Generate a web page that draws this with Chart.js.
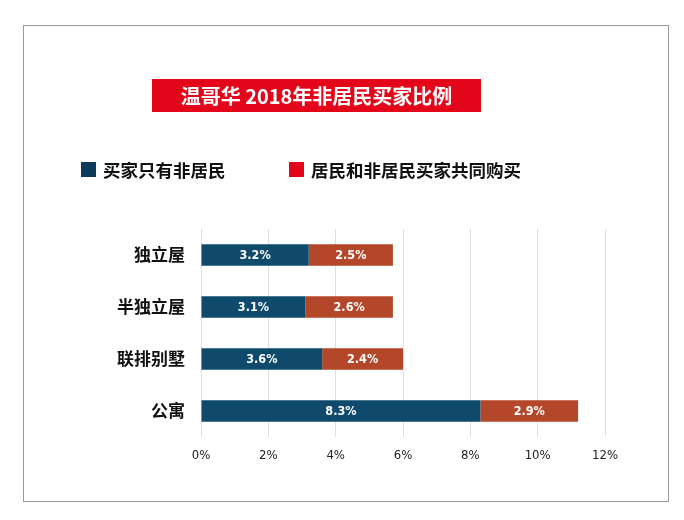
<!DOCTYPE html>
<html>
<head>
<meta charset="utf-8">
<script src="https://cdn.jsdelivr.net/npm/chart.js@4/dist/chart.umd.min.js"></script>
<style>
  html, body { margin: 0; padding: 0; background: #fff; }
  #wrap { width: 684px; height: 520px; position: relative; }
</style>
</head>
<body>
<div id="wrap"><canvas id="chart"></canvas></div>
<script>
// values (percent of sales)
const categories = ['独立屋', '半独立屋', '联排别墅', '公寓'];
const onlyNonResident = [3.2, 3.1, 3.6, 8.3];
const jointPurchase = [2.5, 2.6, 2.4, 2.9];
const seriesNames = ['买家只有非居民', '居民和非居民买家共同购买'];
const titleText = '温哥华 2018年非居民买家比例';
const xMax = 12;
const xStep = 2;

const BLUE = '#0f4a6d';
const ORANGE = '#b4462a';
const RED = '#e3061a';
const CJK = '"Noto Sans CJK SC", "Noto Sans", sans-serif';
const NARROW = '"Liberation Sans Narrow", "DejaVu Sans Condensed", "Liberation Sans", sans-serif';

// frame, title box and legend
const decorPlugin = {
  id: 'decor',
  beforeDraw(chart) {
    const ctx = chart.ctx;
    ctx.save();
    ctx.fillStyle = '#fff';
    ctx.fillRect(0, 0, chart.width, chart.height);
    ctx.strokeStyle = '#9a9a9a';
    ctx.lineWidth = 1;
    ctx.strokeRect(23.5, 25.5, 645, 476);
    ctx.restore();
  },
  afterDraw(chart) {
    const ctx = chart.ctx;
    ctx.save();
    ctx.fillStyle = RED;
    ctx.fillRect(152, 79, 329, 33);
    ctx.fillStyle = '#fff';
    ctx.font = 'bold 20px ' + CJK;
    ctx.textAlign = 'center';
    ctx.textBaseline = 'middle';
    ctx.fillText(titleText, 316.5, 96);

    // legend
    ctx.textAlign = 'left';
    ctx.font = 'bold 17.5px ' + CJK;
    ctx.fillStyle = '#0d3a5a';
    ctx.fillRect(81, 162, 15, 15);
    ctx.fillStyle = '#111';
    ctx.fillText(seriesNames[0], 103, 170);
    ctx.fillStyle = RED;
    ctx.fillRect(289, 162, 15, 15);
    ctx.fillStyle = '#111';
    ctx.fillText(seriesNames[1], 311, 170);
    ctx.restore();
  }
};

// value labels inside the bar segments
const valueLabels = {
  id: 'valueLabels',
  afterDatasetsDraw(chart) {
    const ctx = chart.ctx;
    ctx.save();
    ctx.fillStyle = '#fff';
    ctx.font = 'bold 12.5px ' + NARROW;
    ctx.textAlign = 'center';
    ctx.textBaseline = 'middle';
    chart.data.datasets.forEach((ds, i) => {
      chart.getDatasetMeta(i).data.forEach((bar, j) => {
        const p = bar.getCenterPoint();
        ctx.fillText(ds.data[j].toFixed(1) + '%', p.x, p.y + 1);
      });
    });
    ctx.restore();
  }
};

new Chart(document.getElementById('chart'), {
  type: 'bar',
  data: {
    labels: categories,
    datasets: [
      { label: seriesNames[0], data: onlyNonResident, backgroundColor: BLUE },
      { label: seriesNames[1], data: jointPurchase, backgroundColor: ORANGE }
    ]
  },
  options: {
    indexAxis: 'y',
    responsive: true,
    maintainAspectRatio: false,
    animation: false,
    categoryPercentage: 1,
    barPercentage: 0.41,
    layout: { padding: { left: 0, top: 229, right: 79, bottom: 0 } },
    plugins: { legend: { display: false }, title: { display: false }, tooltip: { enabled: false } },
    scales: {
      x: {
        stacked: true,
        min: 0,
        max: xMax,
        ticks: {
          stepSize: xStep,
          padding: 11,
          color: '#222',
          font: { family: NARROW, size: 13 },
          callback: v => v + '%'
        },
        grid: { color: '#dedede', lineWidth: 1, drawTicks: false },
        border: { display: false },
        afterFit: s => { s.height = 83; }
      },
      y: {
        stacked: true,
        ticks: {
          padding: 16,
          color: '#111',
          font: { family: CJK, size: 17, weight: 'bold' }
        },
        grid: { display: false, drawTicks: false },
        border: { display: false },
        afterFit: s => { s.width = 201; }
      }
    }
  },
  plugins: [decorPlugin, valueLabels]
});
</script>
</body>
</html>
